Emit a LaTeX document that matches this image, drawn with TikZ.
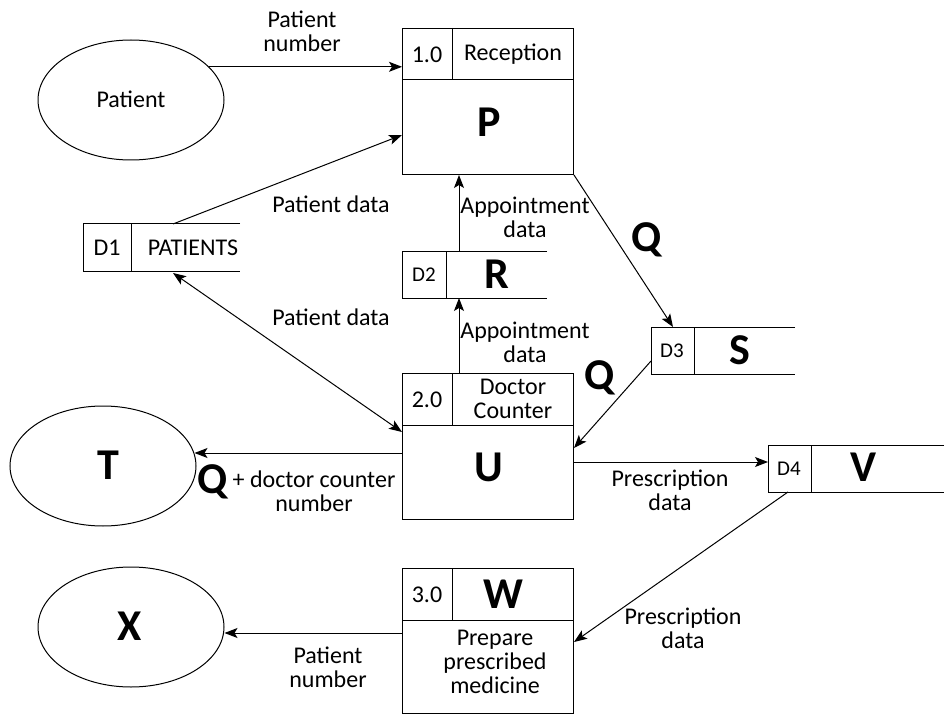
\documentclass[tikz,border=0pt]{standalone}
\usepackage{fontspec}
\setmainfont{Carlito}
\usetikzlibrary{shapes.geometric,arrows.meta}
\begin{document}
\begin{tikzpicture}[x=1pt,y=-1pt,
  line width=1pt,
  tip/.tip={Stealth[length=13pt,width=10pt,inset=3pt]},
  arr/.style={-tip},
  darr/.style={tip-tip},
  ent/.style={draw, ellipse, minimum width=186pt, minimum height=120pt, inner sep=0pt},
  proc/.style={draw, rectangle, anchor=north west, minimum width=171pt, inner sep=0pt},
  store/.style={rectangle, anchor=north west, minimum height=46pt, inner sep=0pt},
  txt/.style={font=\fontsize{24}{24}\selectfont, align=center, inner sep=0pt},
  small/.style={font=\fontsize{21}{22}\selectfont, inner sep=0pt},
  big/.style={font=\fontsize{44}{46}\selectfont\bfseries, inner sep=0pt},
]
\useasboundingbox[fill=white] (0,0) rectangle (945,714);

% external entities
\node[ent] (pat) at (131,100) {};
\node[txt] (patlbl) at (131,99) {Patient};
\node[ent] (t) at (103,466) {};
\node[big] (tlbl) at (108,465) {T};
\node[ent] (x) at (131,627) {};
\node[big] (xlbl) at (130,626) {X};

% processes
\node[proc, minimum height=146pt] (p1) at (402,28) {};
\node[proc, minimum height=146pt] (p2) at (402,373) {};
\node[proc, minimum height=145pt] (p3) at (402,568) {};
\foreach \p in {p1,p2,p3}{
  \draw ([yshift=-52pt]\p.north west) -- ([yshift=-52pt]\p.north east);
  \draw ([xshift=50pt]\p.north west) -- ([xshift=50pt,yshift=-52pt]\p.north west);
}
\node[txt] (p1num) at (427,55) {1.0};
\node[txt] (p1name) at (513,54) {Reception};
\node[big] (p1big) at (489,122) {P};
\node[txt] (p2num) at (427,400) {2.0};
\node[txt] (p2name) at (513,399) {Doctor\\Counter};
\node[big] (p2big) at (489,467) {U};
\node[txt] (p3num) at (427,595) {3.0};
\node[big] (p3big) at (503,594) {W};
\node[txt] (p3name) at (495,662) {Prepare\\prescribed\\medicine};

% data stores
\node[store, minimum width=156pt] (d1) at (83,224) {};
\node[store, minimum width=144pt] (d2) at (402,251) {};
\node[store, minimum width=143pt] (d3) at (651,327) {};
\node[store, minimum width=175pt] (d4) at (768,445) {};
\foreach \d/\s in {d1/48,d2/44,d3/43,d4/43}{
  \draw (\d.north east) -- (\d.north west) -- (\d.south west) -- (\d.south east);
  \draw ([xshift=\s pt]\d.north west) -- ([xshift=\s pt]\d.south west);
}
\node[txt] (d1id) at (107,248) {D1};
\node[txt] (d1name) at (193,248) {PATIENTS};
\node[small] (d2id) at (424,275) {D2};
\node[big] (d2big) at (497,274) {R};
\node[small] (d3id) at (672,351) {D3};
\node[big] (d3big) at (740,350) {S};
\node[small] (d4id) at (789,469) {D4};
\node[big] (d4big) at (863,467) {V};

% connectors
\draw[arr] (pat.23) -- (pat.23 -| p1.west);
\draw[arr] ([xshift=90pt]d1.north west) -- ([yshift=-107pt]p1.north west);
\draw[darr] ([xshift=90pt,yshift=-2pt]d1.south west) -- ([yshift=-59pt]p2.north west);
\draw[arr] ([xshift=57pt]d2.north west) -- ([xshift=57pt]d2.north west |- p1.south);
\draw[arr] ([xshift=57pt]d2.north west |- p2.north) -- ([xshift=57pt]d2.south west);
\draw[arr] (p1.south east) -- ([xshift=22pt]d3.north west);
\draw[arr] ([yshift=13pt]d3.south west) -- ([yshift=-75pt]p2.north east);
\coordinate (tin) at ([yshift=-80pt]p2.north west);
\draw[arr] (tin) -- ([xshift=-2pt]tin -| t.east);
\coordinate (d4in) at ([yshift=-17pt]d4.north west);
\draw[arr] (d4in -| p2.east) -- (d4in);
\draw[arr] ([xshift=20pt]d4.south west) -- ([yshift=-74pt]p3.north east);
\coordinate (xout) at ([yshift=-65pt]p3.north west);
\draw[arr] (xout) -- (xout -| x.east);

% connector labels
\node[txt] (l1) at (302,31) {Patient\\number};
\node[txt] (l2) at (331,204) {Patient data};
\node[txt] (l3) at (525,217) {Appointment\\data};
\node[big] (l4) at (647,240) {Q};
\node[txt] (l5) at (331,317) {Patient data};
\node[txt] (l6) at (525,342) {Appointment\\data};
\node[big] (l7) at (600,378) {Q};
\node[big] (l8) at (213,482) {Q};
\node[txt] (l9) at (314,491) {+ doctor counter\\number};
\node[txt] (l10) at (670,490) {Prescription\\data};
\node[txt] (l11) at (683,628) {Prescription\\data};
\node[txt] (l12) at (328,667) {Patient\\number};
\end{tikzpicture}
\end{document}
